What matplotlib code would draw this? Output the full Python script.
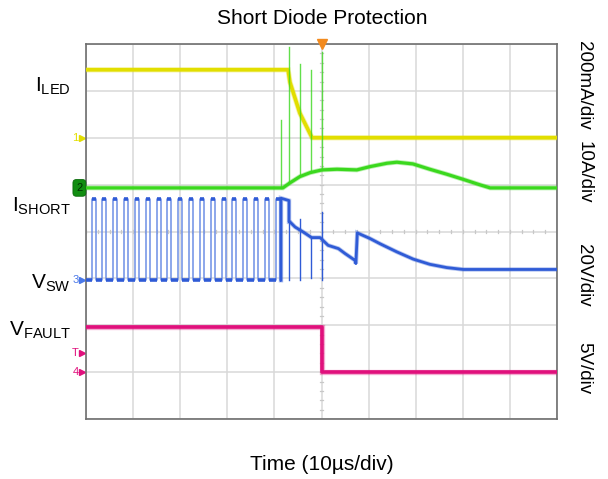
import numpy as np
import matplotlib.pyplot as plt
from matplotlib.transforms import blended_transform_factory

plt.rcParams['font.family'] = ['Liberation Sans', 'DejaVu Sans']
plt.rcParams['mathtext.fontset'] = 'custom'
plt.rcParams['mathtext.rm'] = 'Liberation Sans'
plt.rcParams['mathtext.it'] = 'Liberation Sans:italic'
plt.rcParams['mathtext.bf'] = 'Liberation Sans:bold'

# scope setup: 10 us/div, trigger at screen centre, 8 vertical divisions
T_MIN, T_MAX = -50.0, 50.0
N_DIV_Y = 8

# per channel: ground position (div) and units per division
ILED_GND, ILED_SCALE = 6.0, 200.0       # mA/div
ISHORT_GND, ISHORT_SCALE = 4.93, 10.0   # A/div
VSW_GND, VSW_SCALE = 2.96, 20.0         # V/div
VFAULT_GND, VFAULT_SCALE = 1.0, 5.0     # V/div
TRIG_LEVEL = 2.05                       # V on VFAULT

# LED current (mA)
iled_t = [-50, -7.1, -6.7, -4.6, -2.0, 50]
iled_ma = [290, 290, 237, 105, 0, 0]

# current in the shorted diode (A)
ishort_t = [-50, -8.2, -6.7, -4.6, -2.4, 0.1, 3.3, 7.5, 10.3, 13.9,
            16.0, 19.4, 23.0, 26.6, 30.0, 33.7, 35.8, 50]
ishort_a = [0, 0, 1.07, 2.41, 3.26, 3.84, 3.98, 3.84, 4.54, 5.26,
            5.48, 5.12, 3.98, 2.92, 1.85, 0.64, 0, 0]
ishort_spike_t = [-8.6, -6.84, -4.5, -2.23, 0.1]
ishort_spike_a = [14.5, 30.1, 26.4, 25.2, 29.0]

# switch node: rising edges of the regular switching pulses (us)
vsw_edges = [-48.8, -46.5, -44.2, -41.9, -39.6, -37.3, -35.0, -32.7, -30.4,
             -28.1, -25.8, -23.5, -21.2, -18.9, -16.6, -14.3, -12.0, -9.7]
VSW_HIGH = 34.5   # V
VSW_ON = 0.85     # us
# switch node after the fault (V)
vsw_fault_t = [-8.6, -8.6, -6.9, -6.9, -6.7, -5.6, -3.9, -2.1, -0.3, 1.4,
               3.6, 5.0, 7.1, 7.3, 7.6, 10.3, 12.4, 16.0, 19.5, 23.0,
               26.6, 30.1, 50]
vsw_fault_v = [0, 35.0, 34.0, 24.9, 24.9, 22.7, 20.6, 18.2, 18.2, 14.9,
               13.5, 11.4, 8.5, 7.1, 20.2, 17.8, 15.6, 12.1, 9.0, 6.8,
               5.4, 4.6, 4.6]
vsw_spike_t = [-6.9, -4.5, -2.2, 0.1]
vsw_spike_lo = [0.0, 0.0, 1.0, 0.0]
vsw_spike_hi = [24.9, 26.0, 18.2, 29.0]

# fault flag (V)
vfault_t = [-50, 0.1, 0.1, 50]
vfault_v = [4.8, 4.8, 0, 0]

YELLOW = '#e2de00'
GREEN = '#3bd81e'
BLUE = '#2f5bd6'
PINK = '#e0107c'
GRID = '#d9d9d9'


def to_div(values, gnd, scale):
    return gnd + np.asarray(values, dtype=float) / scale


# build the switching waveform from its edges
sw_t, sw_v = [T_MIN], [0.0]
for e in vsw_edges:
    sw_t += [e, e, e + VSW_ON, e + VSW_ON]
    sw_v += [0.0, VSW_HIGH, VSW_HIGH, 0.0]
sw_t.append(vsw_fault_t[0])
sw_v.append(0.0)

W, H = 608, 479
fig = plt.figure(figsize=(W / 100, H / 100), dpi=100)
ax = fig.add_axes([86 / W, 1 - 419 / H, 471 / W, 375 / H])
ax.set_xlim(T_MIN, T_MAX)
ax.set_ylim(0, N_DIV_Y)
ax.set_xticks(np.arange(T_MIN, T_MAX + 1, 10))
ax.set_yticks(np.arange(0, N_DIV_Y + 1, 1))
ax.tick_params(length=0, labelbottom=False, labelleft=False)
ax.grid(True, color=GRID, lw=1.1)
ax.set_axisbelow(True)
for s in ax.spines.values():
    s.set_color('#6e6e6e')
    s.set_linewidth(1.2)

# minor graticule ticks on the centre lines
for t in np.arange(T_MIN, T_MAX + 0.01, 2.5):
    ax.plot([t, t], [3.96, 4.04], color='#c8c8c8', lw=0.9, zorder=1)
for d in np.arange(0, N_DIV_Y + 0.01, 0.2):
    ax.plot([-0.4, 0.4], [d, d], color='#c8c8c8', lw=0.9, zorder=1)


def trace(t, y, color, lw=2.3):
    ax.plot(t, y, color=color, lw=lw + 1.2, alpha=0.35, solid_joinstyle='miter', zorder=3)
    ax.plot(t, y, color=color, lw=lw, zorder=4)


# spikes on the diode current
for t, a in zip(ishort_spike_t, ishort_spike_a):
    base = np.interp(t, ishort_t, ishort_a)
    ax.plot([t, t], to_div([base, a], ISHORT_GND, ISHORT_SCALE),
            color=GREEN, lw=1.0, alpha=0.8, zorder=5)

trace(iled_t, to_div(iled_ma, ILED_GND, ILED_SCALE), YELLOW, lw=2.6)
trace(ishort_t, to_div(ishort_a, ISHORT_GND, ISHORT_SCALE), GREEN)

# switching pulses: thin edges, heavier flat tops and bottoms
sw_y = to_div(sw_v, VSW_GND, VSW_SCALE)
ax.plot(sw_t, sw_y, color='#6d8fe6', lw=1.1, zorder=4)
for i in range(len(sw_t) - 1):
    if sw_y[i] == sw_y[i + 1]:
        ax.plot(sw_t[i:i + 2], sw_y[i:i + 2], color=BLUE, lw=2.6,
                solid_capstyle='butt', zorder=4)
trace(vsw_fault_t, to_div(vsw_fault_v, VSW_GND, VSW_SCALE), BLUE, lw=2.0)
for t, lo, hi in zip(vsw_spike_t, vsw_spike_lo, vsw_spike_hi):
    ax.plot([t, t], to_div([lo, hi], VSW_GND, VSW_SCALE), color=BLUE, lw=1.0, zorder=4)
trace(vfault_t, to_div(vfault_v, VFAULT_GND, VFAULT_SCALE), PINK, lw=2.6)

# trigger position marker
ax.plot([0], [N_DIV_Y], marker='v', ms=7, color='#f28a1e', mec='#f28a1e',
        clip_on=False, zorder=6)

# ground / trigger level markers left of the screen
edge = blended_transform_factory(ax.transAxes, ax.transData)
markers = [('1', ILED_GND, YELLOW), ('3', VSW_GND, '#4a78e8'),
           ('T', VFAULT_GND + TRIG_LEVEL / VFAULT_SCALE, PINK),
           ('4', VFAULT_GND, PINK)]
for lab, y, c in markers:
    ax.text(-0.016, y, lab, transform=edge, ha='right', va='center',
            color=c, fontsize=8, clip_on=False)
    ax.plot([-0.008], [y], marker='>', ms=4.5, color=c, transform=edge, clip_on=False)
ax.text(-0.014, ISHORT_GND, '2', transform=edge, ha='center', va='center',
        color='#003300', fontsize=8, clip_on=False,
        bbox=dict(boxstyle='round,pad=0.3', fc='#118d11', ec='#0a6a0a', lw=0.6))


def px(x, y):
    return x / W, 1 - y / H


fig.text(*px(322, 19), 'Short Diode Protection', ha='center', va='center', fontsize=15)
fig.text(*px(322, 465), 'Time (10µs/div)', ha='center', va='center', fontsize=15)

for text, y in [(r'I$_{\mathrm{LED}}$', 92), (r'I$_{\mathrm{SHORT}}$', 212),
                (r'V$_{\mathrm{SW}}$', 289), (r'V$_{\mathrm{FAULT}}$', 336)]:
    fig.text(*px(71, y), text, ha='right', va='baseline', fontsize=15)

for text, y in [('200mA/div', 85), ('10A/div', 172), ('20V/div', 275), ('5V/div', 368)]:
    fig.text(*px(584, y), text, ha='center', va='center', rotation=270, fontsize=13.5)

fig.savefig('out.png', dpi=100)
